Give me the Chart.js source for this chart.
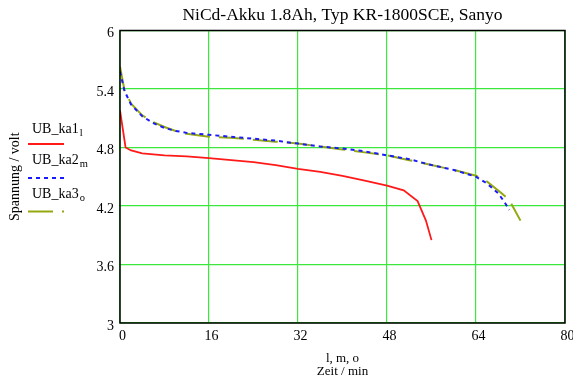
<!DOCTYPE html>
<html>
<head>
<meta charset="utf-8">
<script src="https://cdn.jsdelivr.net/npm/chart.js@4.4.1/dist/chart.umd.min.js"></script>
<style>
  body { margin: 0; background: #fff; }
</style>
</head>
<body>
<canvas id="akkuChart" width="573" height="380"></canvas>
<script>
const titel = 'NiCd-Akku 1.8Ah, Typ KR-1800SCE, Sanyo'
const namen = ['UB_ka1', 'UB_ka2', 'UB_ka3']
const indizes = ['l', 'm', 'o']

/* Zeit in min und Spannung in volt fuer jede Messung */
const zeitKa1 = [0, 1, 2, 4, 8, 12, 16, 20, 24, 28, 32, 36, 40, 44, 48, 51, 53.5, 55, 56]
const spannungKa1 = [5.18, 4.80, 4.77, 4.74, 4.72, 4.71, 4.69, 4.67, 4.65, 4.62, 4.58, 4.55, 4.51, 4.46, 4.41, 4.36, 4.25, 4.05, 3.85]

const zeitKa2 = [0, 0.8, 2, 4, 6, 8, 10, 12, 16, 20, 24, 28, 32, 36, 40, 44, 48, 52, 56, 60, 64, 66, 68, 69, 70]
const spannungKa2 = [5.58, 5.38, 5.24, 5.12, 5.05, 5.00, 4.97, 4.95, 4.93, 4.91, 4.89, 4.87, 4.84, 4.81, 4.79, 4.76, 4.72, 4.68, 4.62, 4.57, 4.50, 4.43, 4.33, 4.25, 4.16]

const zeitKa3 = [0, 0.8, 2, 4, 6, 8, 10, 12, 16, 20, 24, 28, 32, 36, 40, 44, 48, 52, 56, 60, 64, 66, 68.6, 70, 72]
const spannungKa3 = [5.63, 5.39, 5.25, 5.13, 5.06, 5.01, 4.97, 4.94, 4.91, 4.90, 4.88, 4.86, 4.84, 4.81, 4.78, 4.75, 4.72, 4.67, 4.62, 4.57, 4.51, 4.45, 4.33, 4.26, 4.05]

const xTicks = [0, 16, 32, 48, 64, 80]
const yTicks = [3, 3.6, 4.2, 4.8, 5.4, 6]

const farben = ['#ff1a1a', '#1a1aff', '#95a812']
const striche = [[], [4, 4], [25, 9]]
const gitterFarbe = '#3ce83c'
const schrift = 'Liberation Serif, Times New Roman, serif'

function punkte(xs, ys){
    return xs.map((x, i) => ({x: x, y: ys[i]}))
}

/* Rahmen, Titel und Legende wie im Original */
const extras = {
    id: 'extras',
    afterDraw(chart){
        const ctx = chart.ctx
        const a = chart.chartArea
        ctx.save()
        ctx.strokeStyle = '#000'
        ctx.lineWidth = 1.5
        ctx.strokeRect(a.left, a.top, a.right - a.left, a.bottom - a.top)

        ctx.fillStyle = '#000'
        ctx.font = '17.5px ' + schrift
        ctx.textAlign = 'center'
        ctx.textBaseline = 'middle'
        ctx.fillText(titel, (a.left + a.right) / 2, 15)

        const textY = [133, 164, 198]
        const linieY = [144, 178, 211.5]
        ctx.textAlign = 'left'
        ctx.textBaseline = 'alphabetic'
        for (let i = 0; i < namen.length; i++) {
            ctx.font = '14px ' + schrift
            ctx.fillStyle = '#000'
            ctx.fillText(namen[i], 32, textY[i])
            const w = ctx.measureText(namen[i]).width
            ctx.font = '10.5px ' + schrift
            ctx.fillText(indizes[i], 32 + w + 1, textY[i] + 3)

            ctx.beginPath()
            ctx.strokeStyle = farben[i]
            ctx.lineWidth = 2
            ctx.setLineDash(striche[i])
            ctx.moveTo(28, linieY[i])
            ctx.lineTo(64, linieY[i])
            ctx.stroke()
        }
        ctx.restore()
    }
}

const ctx = document.getElementById('akkuChart')

new Chart(ctx, {
    type: 'line',
    data: {
        datasets: [{
            label: namen[0],
            data: punkte(zeitKa1, spannungKa1),
            borderColor: farben[0],
            borderWidth: 1.8
        },
        {
            label: namen[1],
            data: punkte(zeitKa2, spannungKa2),
            borderColor: farben[1],
            borderWidth: 2,
            borderDash: striche[1]
        },
        {
            label: namen[2],
            data: punkte(zeitKa3, spannungKa3),
            borderColor: farben[2],
            borderWidth: 2,
            borderDash: striche[2]
        }]
    },
    options: {
        responsive: false,
        animation: false,
        layout: { padding: { top: 30.5, right: 8, left: 0, bottom: 0 } },
        elements: { point: { radius: 0 }, line: { tension: 0 } },
        plugins: {
            legend: { display: false },
            tooltip: { enabled: false }
        },
        scales: {
            x: {
                type: 'linear',
                min: 0,
                max: 80,
                afterBuildTicks(scale){ scale.ticks = xTicks.map(v => ({value: v})) },
                afterFit(scale){
                    scale.height = 57
                    scale.paddingLeft = 0
                    scale.paddingRight = 0
                },
                grid: { color: gitterFarbe, lineWidth: 1.2, drawTicks: false },
                border: { display: false },
                ticks: {
                    padding: 5,
                    labelOffset: 2.5,
                    color: '#000',
                    font: { family: schrift, size: 14 }
                },
                title: {
                    display: true,
                    text: ['l, m, o', 'Zeit / min'],
                    color: '#000',
                    padding: { top: 0, bottom: 1.5 },
                    font: { family: schrift, size: 13, lineHeight: 1.0 }
                }
            },
            y: {
                min: 3,
                max: 6,
                afterBuildTicks(scale){ scale.ticks = yTicks.map(v => ({value: v})) },
                afterFit(scale){
                    scale.width = 120
                    scale.paddingTop = 0
                    scale.paddingBottom = 0
                },
                grid: { color: gitterFarbe, lineWidth: 1.2, drawTicks: false },
                border: { display: false },
                ticks: {
                    padding: 6,
                    labelOffset: 3,
                    color: '#000',
                    font: { family: schrift, size: 14 },
                    callback: v => String(Number(v.toFixed(1)))
                },
                title: {
                    display: true,
                    text: 'Spannung / volt',
                    color: '#000',
                    padding: { top: 7, bottom: 0 },
                    font: { family: schrift, size: 14, lineHeight: 1.2 }
                }
            }
        }
    },
    plugins: [extras]
})
</script>
</body>
</html>
